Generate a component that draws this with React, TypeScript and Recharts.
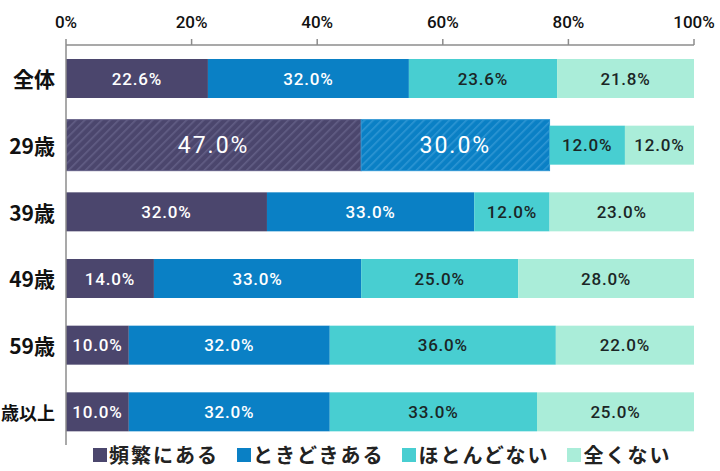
import React from 'react';
import { BarChart, Bar, XAxis, YAxis, LabelList, Legend } from 'recharts';

const categories = ['全体', '29歳', '39歳', '49歳', '59歳', '歳以上'];
const seriesNames = ['頻繁にある', 'ときどきある', 'ほとんどない', '全くない'];
const frequent = [22.6, 47.0, 32.0, 14.0, 10.0, 10.0];
const sometimes = [32.0, 30.0, 33.0, 33.0, 32.0, 32.0];
const rarely = [23.6, 12.0, 12.0, 25.0, 36.0, 33.0];
const never = [21.8, 12.0, 23.0, 28.0, 22.0, 25.0];
const xTicks = [0, 20, 40, 60, 80, 100];
const highlightCategory = '29歳';
const highlightSeries = [0, 1];

const keys = ['s0', 's1', 's2', 's3'];
const seriesValues = [frequent, sometimes, rarely, never];
const colors = ['#4b466d', '#0a80c5', '#48ced1', '#aaedd9'];
const stripeColors = ['#625e85', '#2e95d3'];
const labelColors = ['#ffffff', '#ffffff', '#1b2626', '#1b2626'];

const data = categories.map((name, i) => {
  const row: any = { name };
  keys.forEach((k, j) => {
    row[k] = seriesValues[j][i];
  });
  return row;
});

const numFont = 'Roboto, "Liberation Sans", Arial, sans-serif';
const jpFont = '"Noto Sans CJK JP", "Noto Sans", sans-serif';

const makeShape = (si: number) => (props: any) => {
  const { x, y, width, height, payload } = props;
  const hl = payload && payload.name === highlightCategory && highlightSeries.includes(si);
  if (hl) {
    return (
      <rect
        x={x}
        y={y - 6}
        width={width}
        height={height + 12}
        fill={`url(#hatch${si})`}
        stroke={stripeColors[si]}
        strokeWidth={1}
      />
    );
  }
  return <rect x={x} y={y} width={width} height={height} fill={colors[si]} />;
};

const makeLabel = (si: number) => (props: any) => {
  const { x, y, width, height, value, index } = props;
  const isHlRow = categories[index] === highlightCategory;
  const big = isHlRow && highlightSeries.includes(si);
  const fontSize = big ? 23 : 17;
  return (
    <text
      x={x + width / 2}
      y={y + height / 2}
      textAnchor="middle"
      dominantBaseline="central"
      fill={labelColors[si]}
      fontSize={fontSize}
      fontWeight={big ? 400 : 500}
      fontFamily={numFont}
      letterSpacing={big ? 2 : 0.8}
    >
      {`${Number(value).toFixed(1)}%`}
    </text>
  );
};

const isWide = (s: string) => /[^\x00-\x7f]/.test(s);

const CategoryTick = (props: any) => {
  const { x, y, payload } = props;
  const label = String(payload.value);
  const wideCount = label.split('').filter(isWide).length;
  const narrowCount = label.length - wideCount;
  const est = wideCount * 21 + narrowCount * 12;
  const tight = est > x - 2;
  return (
    <text
      x={x}
      y={y}
      textAnchor="end"
      dominantBaseline="central"
      fontSize={tight ? 18 : 21}
      fontWeight={700}
      fontFamily={jpFont}
      fill="#111"
    >
      {label}
    </text>
  );
};

const LegendContent = () => (
  <div style={{ display: 'flex', alignItems: 'center', paddingLeft: 93 }}>
    {seriesNames.map((n, i) => (
      <div key={n} style={{ display: 'flex', alignItems: 'center', marginRight: 18 }}>
        <div style={{ width: 14, height: 14, background: colors[i], marginRight: 2 }} />
        <span
          style={{
            fontFamily: jpFont,
            fontSize: 20,
            fontWeight: 700,
            color: '#222',
            lineHeight: '21px',
            letterSpacing: 2,
          }}
        >
          {n}
        </span>
      </div>
    ))}
  </div>
);

export default function App() {
  return (
    <div style={{ position: 'absolute', left: 0, top: 0, width: 720, height: 471, background: '#fff' }}>
      <BarChart
        width={720}
        height={471}
        data={data}
        layout="vertical"
        margin={{ top: 0, right: 26, bottom: 26, left: 0 }}
        barSize={39}
      >
        <defs>
          {highlightSeries.map((si) => (
            <pattern
              key={si}
              id={`hatch${si}`}
              patternUnits="userSpaceOnUse"
              width={6}
              height={6}
              patternTransform="rotate(45)"
            >
              <rect x={0} y={0} width={6} height={6} fill={colors[si]} />
              <rect x={0} y={0} width={1.6} height={6} fill={stripeColors[si]} />
            </pattern>
          ))}
        </defs>
        <XAxis
          type="number"
          orientation="top"
          domain={[0, 100]}
          ticks={xTicks}
          allowDataOverflow
          height={45}
          tickFormatter={(v: number) => `${v}%`}
          axisLine={{ stroke: '#8c8c8c', strokeWidth: 1.5 }}
          tickLine={{ stroke: '#8c8c8c', strokeWidth: 1.5 }}
          tickSize={6}
          tickMargin={11}
          tick={{ fontSize: 17, fill: '#111', fontFamily: numFont, fontWeight: 500 }}
        />
        <YAxis
          type="category"
          dataKey="name"
          width={66}
          axisLine={{ stroke: '#8c8c8c', strokeWidth: 1.5 }}
          tickLine={false}
          tickMargin={5}
          tick={<CategoryTick />}
        />
        <Legend
          layout="horizontal"
          verticalAlign="middle"
          align="center"
          wrapperStyle={{ top: 444, left: 0, width: 720 }}
          content={<LegendContent />}
        />
        {keys.map((k, i) => (
          <Bar
            key={k}
            dataKey={k}
            name={seriesNames[i]}
            stackId="a"
            fill={colors[i]}
            isAnimationActive={false}
            shape={makeShape(i)}
          >
            <LabelList dataKey={k} content={makeLabel(i)} />
          </Bar>
        ))}
      </BarChart>
    </div>
  );
}
